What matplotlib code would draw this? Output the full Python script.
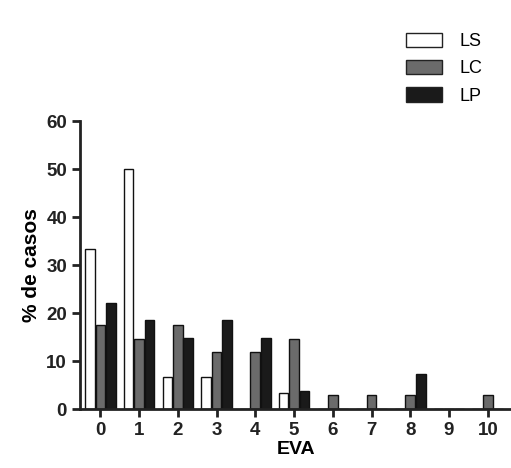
import matplotlib
matplotlib.use('Agg')
import matplotlib.pyplot as plt
import numpy as np
from matplotlib.patches import Patch

# EVA score categories
eva = list(range(11))
tick_labels = [str(v) for v in eva]

# % of cases per group
ls_vals = [33.3, 50.0, 6.7, 6.7, 0, 3.3, 0, 0, 0, 0, 0]
lc_vals = [17.6, 14.7, 17.6, 11.8, 11.8, 14.7, 2.9, 2.9, 2.9, 0, 2.9]
lp_vals = [22.2, 18.5, 14.8, 18.5, 14.8, 3.7, 0, 0, 7.4, 0, 0]

series = [('LS', ls_vals, 'white'), ('LC', lc_vals, '#6b6b6b'), ('LP', lp_vals, '#1a1a1a')]

plt.rcParams['font.family'] = ['Liberation Sans', 'DejaVu Sans']

fig = plt.figure(figsize=(5.11, 4.68), dpi=100)
ax = fig.add_axes([0.157, 0.126, 0.843, 0.615])

x = np.arange(len(eva))
width = 0.25
offsets = [-0.27, 0.0, 0.27]
for (name, vals, col), off in zip(series, offsets):
    ax.bar(x + off, vals, width, color=col, edgecolor='#111111', linewidth=1.0)

ax.set_xlim(-0.52, 10.6)
ax.set_ylim(0, 60)
ax.set_xticks(x)
ax.set_xticklabels(tick_labels)
ax.set_yticks([0, 10, 20, 30, 40, 50, 60])

for side in ['top', 'right']:
    ax.spines[side].set_visible(False)
for side in ['left', 'bottom']:
    ax.spines[side].set_linewidth(2)
    ax.spines[side].set_color('#222222')

ax.tick_params(direction='out', length=6, width=2, colors='#222222', labelsize=13.5)
for lbl in ax.get_xticklabels() + ax.get_yticklabels():
    lbl.set_fontweight('semibold')

ax.set_xlabel('EVA', fontsize=14, fontweight='bold', labelpad=1)
ax.set_ylabel('% de casos', fontsize=15, fontweight='bold', labelpad=4)

handles = [Patch(facecolor=col, edgecolor='#222222', linewidth=1, label=name) for name, _, col in series]
fig.legend(handles=handles, loc='upper left', bbox_to_anchor=(0.762, 0.965), frameon=False,
           fontsize=13, handlelength=2.0, handleheight=0.85, labelspacing=0.55, handletextpad=1.0)

fig.savefig('out.png', dpi=100)
